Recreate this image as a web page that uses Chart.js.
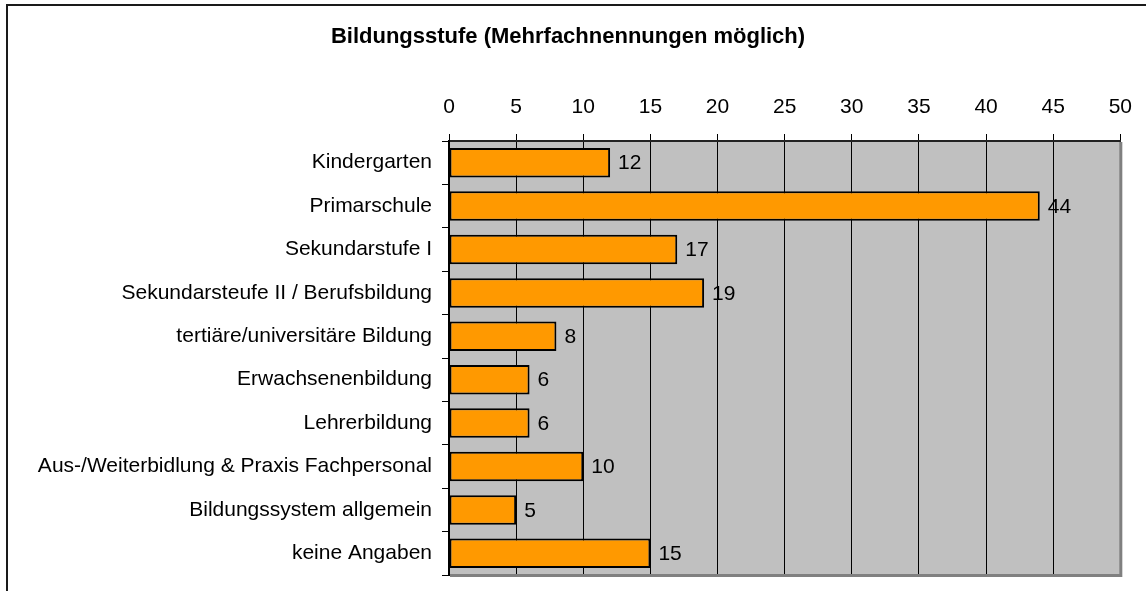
<!DOCTYPE html>
<html>
<head>
<meta charset="utf-8">
<script src="https://cdn.jsdelivr.net/npm/chart.js@4.4.1/dist/chart.umd.min.js"></script>
<style>
  html, body { margin: 0; padding: 0; background: #fff; }
</style>
</head>
<body>
<canvas id="chart" width="1146" height="591"></canvas>
<script>
const chartTitle = 'Bildungsstufe (Mehrfachnennungen möglich)';
const categories = [
    'Kindergarten',
    'Primarschule',
    'Sekundarstufe I',
    'Sekundarsteufe II / Berufsbildung',
    'tertiäre/universitäre Bildung',
    'Erwachsenenbildung',
    'Lehrerbildung',
    'Aus-/Weiterbidlung & Praxis Fachpersonal',
    'Bildungssystem allgemein',
    'keine Angaben',
];
const counts = [12, 44, 17, 19, 8, 6, 6, 10, 5, 15];
const axisMin = 0;
const axisMax = 50;
const axisStep = 5;

const FONT = 'Liberation Sans, Arial, sans-serif';

// outer frame + grey plot background
const framePlugin = {
    id: 'frame',
    beforeDraw(chart) {
        const { ctx, chartArea: a } = chart;
        ctx.save();
        ctx.strokeStyle = '#1a1a1a';
        ctx.lineWidth = 2;
        ctx.beginPath();
        ctx.moveTo(7, chart.height);
        ctx.lineTo(7, 5);
        ctx.lineTo(chart.width, 5);
        ctx.stroke();
        ctx.fillStyle = '#c0c0c0';
        ctx.fillRect(a.left, a.top, a.right - a.left, a.bottom - a.top);
        ctx.restore();
    },
    afterDraw(chart) {
        const { ctx, chartArea: a } = chart;
        ctx.save();
        ctx.strokeStyle = '#808080';
        ctx.lineWidth = 3;
        ctx.beginPath();
        ctx.moveTo(a.right + 0.5, a.top + 1);
        ctx.lineTo(a.right + 0.5, a.bottom + 0.5);
        ctx.lineTo(a.left + 1, a.bottom + 0.5);
        ctx.stroke();
        ctx.restore();
    },
};

// numbers right of each bar
const valueLabels = {
    id: 'valueLabels',
    afterDatasetsDraw(chart) {
        const { ctx } = chart;
        const meta = chart.getDatasetMeta(0);
        ctx.save();
        ctx.font = '21px ' + FONT;
        ctx.fillStyle = '#000';
        ctx.textAlign = 'left';
        ctx.textBaseline = 'middle';
        meta.data.forEach(function (bar, i) {
            ctx.fillText(String(counts[i]), bar.x + 8, bar.y + 1);
        });
        ctx.restore();
    },
};

new Chart(document.getElementById('chart'), {
    type: 'bar',
    data: {
        labels: categories,
        datasets: [{
            data: counts,
            backgroundColor: '#ff9900',
            borderColor: '#000',
            borderWidth: 2,
            borderSkipped: false,
            barPercentage: 0.68,
            categoryPercentage: 1,
        }],
    },
    options: {
        indexAxis: 'y',
        responsive: false,
        devicePixelRatio: 1,
        animation: false,
        layout: { padding: { left: 14, right: 24, top: 0, bottom: 16 } },
        plugins: {
            legend: { display: false },
            tooltip: { enabled: false },
            title: {
                display: true,
                text: chartTitle,
                color: '#000',
                font: { family: FONT, size: 22, weight: 'bold', lineHeight: 1 },
                padding: { top: 26, bottom: 13 },
            },
        },
        scales: {
            x: {
                position: 'top',
                min: axisMin,
                max: axisMax,
                afterFit(scale) { scale.height = 80; },
                ticks: {
                    stepSize: axisStep,
                    color: '#000',
                    font: { family: FONT, size: 21 },
                    padding: 14,
                    maxRotation: 0,
                },
                grid: { color: '#000', lineWidth: 1, tickLength: 7 },
                border: { display: true, color: '#222', width: 2 },
            },
            y: {
                afterFit(scale) {
                    scale.width = 435;
                    scale.paddingTop = 0;
                    scale.paddingBottom = 0;
                },
                ticks: {
                    color: '#000',
                    font: { family: FONT, size: 21 },
                    padding: 10,
                    autoSkip: false,
                },
                grid: { drawOnChartArea: false, color: '#000', tickLength: 7 },
                border: { display: true, color: '#000', width: 2 },
            },
        },
    },
    plugins: [framePlugin, valueLabels],
});
</script>
</body>
</html>
